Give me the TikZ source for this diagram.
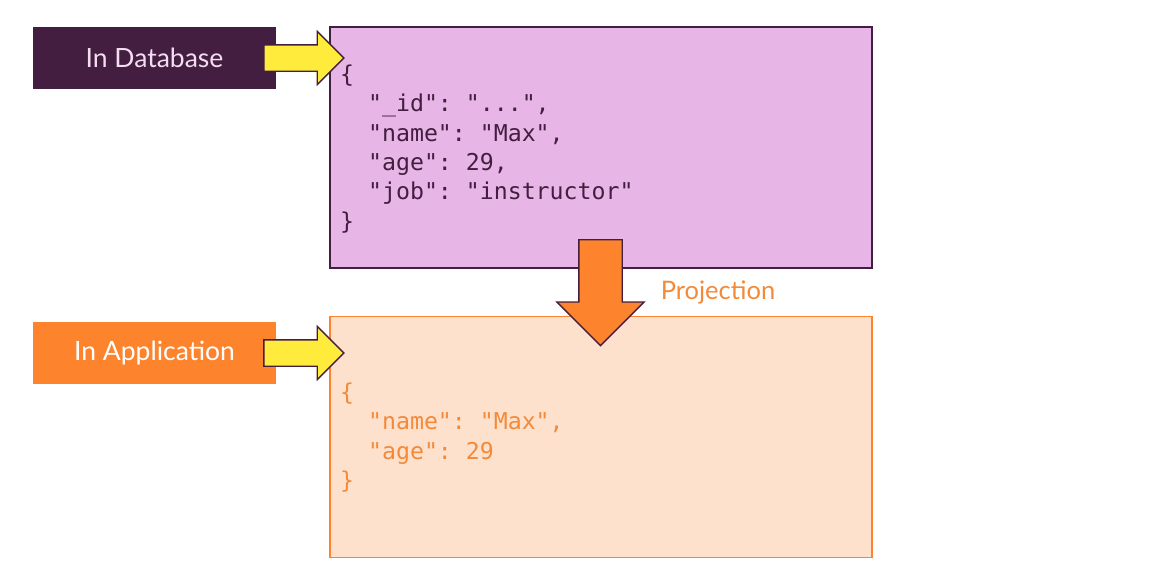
\documentclass[tikz,border=0pt]{standalone}
\usepackage{fontspec}
\setmainfont{Lato}
\setmonofont{DejaVu Sans Mono}
\usetikzlibrary{shapes.arrows,positioning}
\definecolor{dbpurple}{HTML}{431E40}
\definecolor{dbfill}{HTML}{E8B6E6}
\definecolor{tagpink}{HTML}{F3DDF0}
\definecolor{apporange}{HTML}{FD832D}
\definecolor{appfill}{HTML}{FDE1CD}
\definecolor{apptext}{HTML}{F38A3A}
\definecolor{hiyellow}{HTML}{FFEB3B}

\tikzset{
  tagbox/.style={rectangle,minimum width=243pt,minimum height=62pt,inner sep=0pt,
    font=\fontsize{26.5}{30}\selectfont},
  docbox/.style={rectangle,minimum width=542pt,minimum height=241pt,line width=1.3pt},
  jsontext/.style={anchor=north west,align=left,inner sep=0pt,
    font=\ttfamily\fontsize{23.2}{29.4}\selectfont},
  fatarrow/.style={single arrow,draw=dbpurple,line width=1.3pt,inner xsep=0pt,anchor=tail}
}

\begin{document}
\begin{tikzpicture}[x=1pt,y=-1pt]
\useasboundingbox (0,0) rectangle (1156,581);
% boxes
\node[tagbox,fill=dbpurple,text=tagpink] (dbtag) at (154.5,58) {In Database};
\node[tagbox,fill=apporange,text=white] (apptag) at (154.5,353) {In Application};
\node[docbox,fill=dbfill,draw=dbpurple] (dbdoc) at (601,147.5) {};
\node[docbox,fill=appfill,draw=apporange] (appdoc) at (601,437) {};
% documents
\node[jsontext,text=dbpurple] (dbjson) at (340,64.5) {\{\\
\ \ "\_id": "...",\\
\ \ "name": "Max",\\
\ \ "age": 29,\\
\ \ "job": "instructor"\\
\}};
\node[jsontext,text=apptext] (appjson) at (340,382.5) {\{\\
\ \ "name": "Max",\\
\ \ "age": 29\\
\}};
% arrows
\node[fatarrow,fill=hiyellow,minimum height=80pt,inner ysep=12.5pt,
  single arrow head extend=13.5pt] (dbarrow) at ([xshift=-13pt]dbtag.east) {};
\node[fatarrow,fill=hiyellow,minimum height=80pt,inner ysep=12.5pt,
  single arrow head extend=13.5pt] (apparrow) at ([xshift=-13pt]apptag.east) {};
\node[fatarrow,fill=apporange,rotate=-90,minimum height=106pt,inner ysep=21pt,
  single arrow head extend=22pt] (projarrow) at (600.5,239) {};
\node[text=apptext,font=\fontsize{25.5}{30}\selectfont] (proj) at (718,292) {Projection};
\end{tikzpicture}
\end{document}
